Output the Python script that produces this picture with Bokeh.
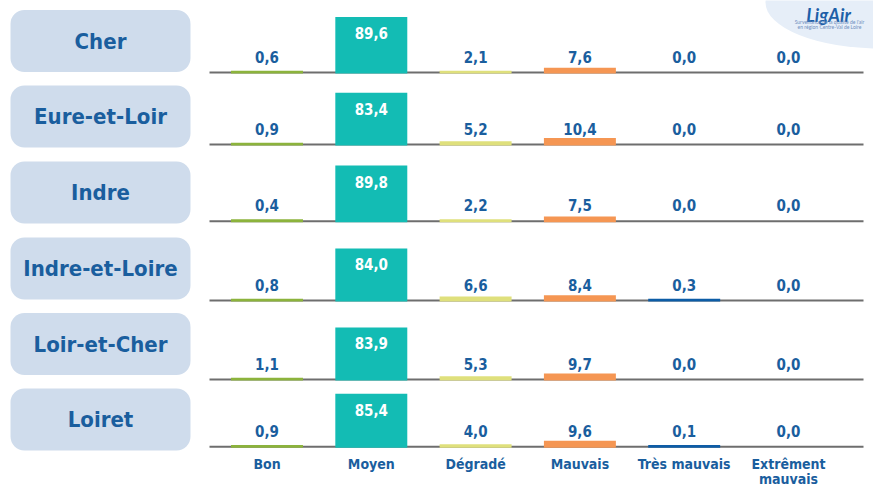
from bokeh.plotting import figure
from bokeh.models import Range1d, BoxAnnotation
from bokeh.core.properties import value
from bokeh.embed import file_html
from bokeh.resources import INLINE

# ---------------- data ----------------
departments = ["Cher", "Eure-et-Loir", "Indre", "Indre-et-Loire", "Loir-et-Cher", "Loiret"]
categories = ["Bon", "Moyen", "Dégradé", "Mauvais", "Très mauvais", "Extrêment\nmauvais"]
bon = [0.6, 0.9, 0.4, 0.8, 1.1, 0.9]
moyen = [89.6, 83.4, 89.8, 84.0, 83.9, 85.4]
degrade = [2.1, 5.2, 2.2, 6.6, 5.3, 4.0]
mauvais = [7.6, 10.4, 7.5, 8.4, 9.7, 9.6]
tres_mauvais = [0.0, 0.0, 0.0, 0.3, 0.0, 0.1]
extremement_mauvais = [0.0, 0.0, 0.0, 0.0, 0.0, 0.0]
series = [bon, moyen, degrade, mauvais, tres_mauvais, extremement_mauvais]
cat_colors = ["#8cb33c", "#13bcb4", "#dfe07c", "#f59653", "#0d5ca6", "#7b3f98"]

# ---------------- layout ----------------
W, H = 873, 486
X0PX, XPX, YPX = 266.5, 104.3, 0.62          # px of first category centre, px per category, px per %
ROW_BASE = [72, 144, 220.7, 300, 379, 446.3]
BOX_TOP = [9.5, 85, 161, 237, 312.5, 388]
BOX_H = 62
BLUE = "#1a5e9e"
FONT = value("'DejaVu Sans Condensed', 'Roboto', sans-serif")


def xu(px):
    return (px - X0PX) / XPX


def yu(px):
    return (H - px) / YPX


p = figure(width=W, height=H, output_backend="svg", toolbar_location=None,
           x_range=Range1d(xu(0), xu(W)), y_range=Range1d(0, H / YPX),
           min_border=0, outline_line_color=None)
p.axis.visible = False
p.grid.visible = False
p.background_fill_color = "white"

# logo blob
p.ellipse(x=[xu(880)], y=[yu(2)], width=[230 / XPX], height=[92 / YPX],
          fill_color="#e6eef8", line_color=None)
p.text(x=[xu(828)], y=[yu(14)], text=["LigAir"], text_font=value("Lato"),
       text_font_style="bold italic", text_font_size="18px", text_color="#1d5fa8",
       text_align="center", text_baseline="alphabetic")
p.text(x=[xu(829), xu(829)], y=[yu(21), yu(26)],
       text=["Surveillance de la qualité de l'air", "en région Centre-Val de Loire"],
       text_font=value("Lato"), text_font_size="5px", text_color="#6f8fc0",
       text_align="center", text_baseline="middle")

# department boxes
for top in BOX_TOP:
    p.add_layout(BoxAnnotation(left=xu(10), right=xu(190), top=yu(top), bottom=yu(top + BOX_H),
                               fill_color="#cfdcec", fill_alpha=1.0, line_color=None,
                               border_radius=14, level="underlay"))
p.text(x=[xu(100)] * len(departments), y=[yu(t + BOX_H / 2) for t in BOX_TOP],
       text=departments, text_font=FONT, text_font_style="bold", text_font_size="22px",
       text_color=BLUE, text_align="center", text_baseline="middle")

# baselines
bases = [yu(s) for s in ROW_BASE]
p.segment(x0=[xu(209)] * 6, x1=[xu(863)] * 6, y0=bases, y1=bases,
          line_color="#6e6e6e", line_width=2)

# bars and value labels
bx, bb, bt, bc = [], [], [], []
lx, ly, lt = [], [], []
mx, my, mt = [], [], []
for r in range(len(departments)):
    base = bases[r]
    for c, s in enumerate(series):
        v = s[r]
        if v > 0:
            bx.append(c)
            bb.append(base - 1.6)
            bt.append(base + max(v, 3.0))
            bc.append(cat_colors[c])
        label = f"{v:.1f}".replace(".", ",")
        if c == 1:
            mx.append(c); my.append(base + v); mt.append(label)
        else:
            lx.append(c); ly.append(base); lt.append(label)

p.vbar(x=bx, bottom=bb, top=bt, width=0.69, fill_color=bc, line_color=None)

p.text(x=lx, y=ly, text=lt, text_font=FONT, text_font_style="bold", text_font_size="15px",
       text_color=BLUE, text_align="center", text_baseline="middle", y_offset=-16)
p.text(x=mx, y=my, text=mt, text_font=FONT, text_font_style="bold", text_font_size="15px",
       text_color="white", text_align="center", text_baseline="middle", y_offset=16)

# category labels
p.text(x=list(range(len(categories))), y=[bases[-1]] * len(categories), text=categories,
       text_font=FONT, text_font_style="bold", text_font_size="14px", text_color=BLUE,
       text_align="center", text_baseline="top", y_offset=9, text_line_height=0.95)

open("out.html", "w").write(file_html(p, INLINE))
